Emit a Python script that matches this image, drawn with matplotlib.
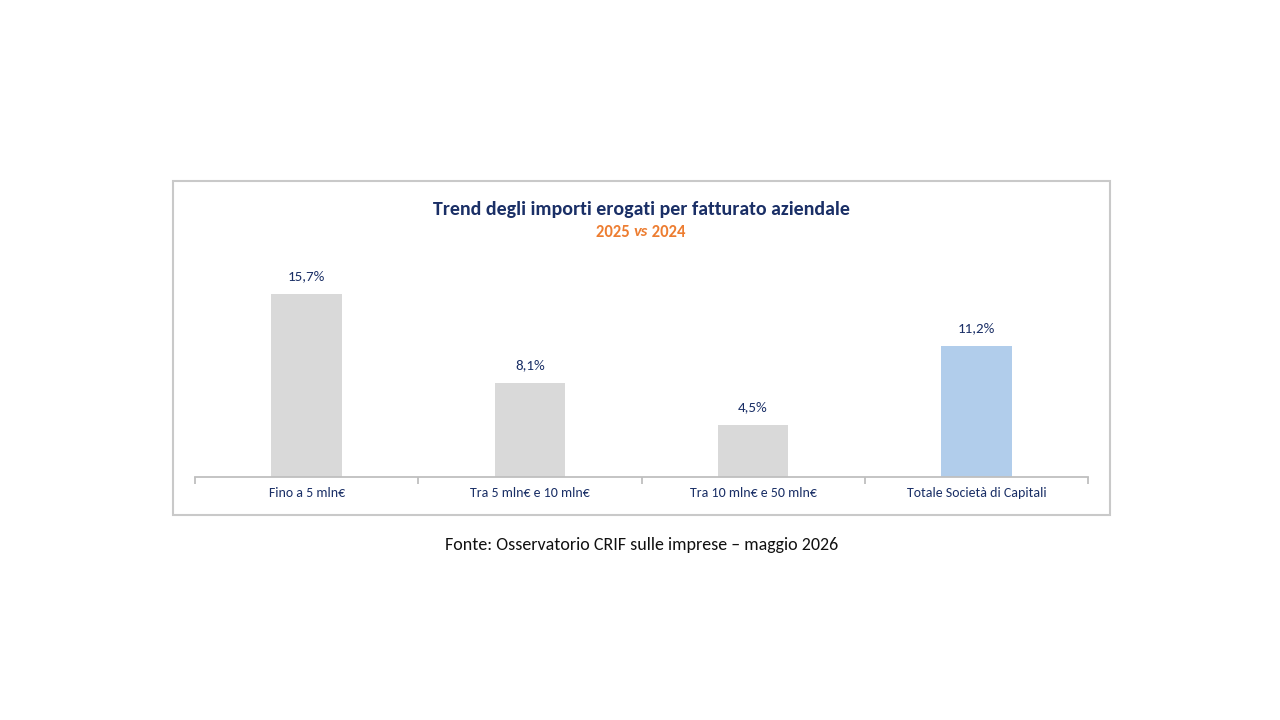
import matplotlib
matplotlib.use("Agg")
import matplotlib.pyplot as plt
from matplotlib import font_manager
from matplotlib.patches import Rectangle

categories = ["Fino a 5 mln€", "Tra 5 mln€ e 10 mln€", "Tra 10 mln€ e 50 mln€", "Totale Società di Capitali"]
values = [15.7, 8.1, 4.5, 11.2]
value_labels = ["15,7%", "8,1%", "4,5%", "11,2%"]
bar_colors = ["#d9d9d9", "#d9d9d9", "#d9d9d9", "#b1cdeb"]

title = "Trend degli importi erogati per fatturato aziendale"
source = "Fonte: Osservatorio CRIF sulle imprese – maggio 2026"

# pick a narrow font similar to Calibri if present
available = {f.name for f in font_manager.fontManager.ttflist}
font = "Open Sans"
for name in ["Carlito", "Liberation Sans Narrow", "Open Sans"]:
    if name in available:
        font = name
        break
plt.rcParams["font.family"] = [font, "DejaVu Sans"]

navy = "#1a2f66"
orange = "#ed7d31"

fig = plt.figure(figsize=(12.8, 7.2), dpi=100)
W, H = 1280, 720

def fx(px):
    return px / W

def fy(py):
    return 1 - py / H

# outer frame of the chart
fig.patches.append(Rectangle((fx(173), fy(515)), fx(1110) - fx(173), fy(181) - fy(515),
                             transform=fig.transFigure, fill=False, edgecolor="#c9c9c9", linewidth=1.5))

ax = fig.add_axes([fx(195), fy(477), fx(1088) - fx(195), fy(260) - fy(477)])
x = range(len(categories))
ax.bar(x, values, width=0.315, color=bar_colors)
for i, (v, lab) in enumerate(zip(values, value_labels)):
    ax.annotate(lab, (i, v), xytext=(0, 8.5), textcoords="offset points",
                ha="center", va="bottom", fontsize=10.8, color=navy)

ax.set_xlim(-0.5, 3.5)
ax.set_ylim(0, 18.6)
for s in ["top", "right", "left"]:
    ax.spines[s].set_visible(False)
ax.spines["bottom"].set_color("#bfbfbf")
ax.spines["bottom"].set_linewidth(1.3)
ax.set_yticks([])
ax.set_xticks(x)
ax.set_xticklabels(categories, fontsize=10, color=navy)
ax.tick_params(axis="x", length=0, pad=7.5)
ax.set_xticks([-0.5, 0.5, 1.5, 2.5, 3.5], minor=True)
ax.tick_params(axis="x", which="minor", length=5, color="#bfbfbf", width=1.3)

fig.text(fx(641), fy(209), title, ha="center", va="center", fontsize=14.3,
         fontweight="bold", color=navy)

# subtitle with italic "vs" built from pieces
fig.canvas.draw()
r = fig.canvas.get_renderer()
parts = [("2025 ", "normal"), ("vs", "italic"), (" 2024", "normal")]
texts = []
for s, st in parts:
    t = fig.text(0, fy(232), s, ha="left", va="center", fontsize=12, fontweight="bold",
                 fontstyle=st, color=orange)
    texts.append(t)
widths = [t.get_window_extent(r).width for t in texts]
start = 641 - sum(widths) / 2
for t, w in zip(texts, widths):
    t.set_x(fx(start))
    start += w

fig.text(fx(641.5), fy(545), source, ha="center", va="center", fontsize=13, color="#111111")

fig.savefig("out.png", dpi=100, facecolor="white")
